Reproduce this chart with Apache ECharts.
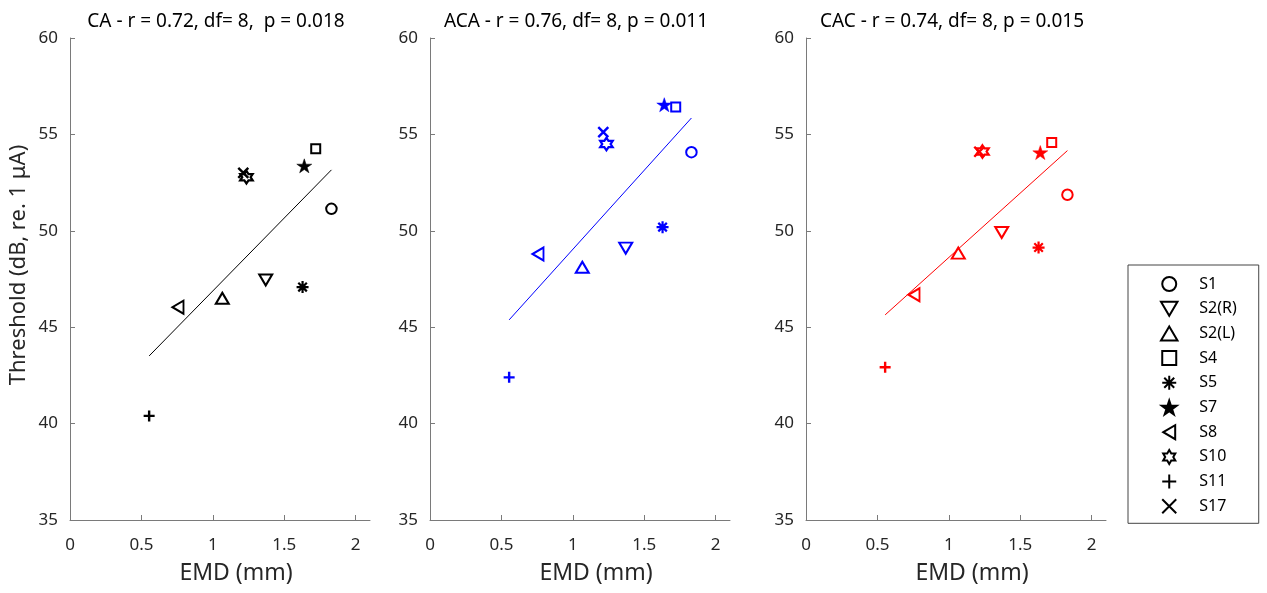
<!DOCTYPE html>
<html><head><meta charset="utf-8">
<script src="https://cdn.jsdelivr.net/npm/echarts@6/dist/echarts.min.js"></script>
<style>html,body{margin:0;padding:0;background:#fff}#c{width:1267px;height:593px}</style>
</head><body><div id="c"></div>
<script>
// ---- data ----
const subjects = ['S1', 'S2(R)', 'S2(L)', 'S4', 'S5', 'S7', 'S8', 'S10', 'S11', 'S17'];
const emd      = [1.83, 1.37, 1.066, 1.72, 1.628, 1.64, 0.756, 1.235, 0.554, 1.213];
const thrCA    = [51.14, 47.45, 46.5, 54.25, 47.08, 53.37, 46.04, 52.78, 40.4, 53.0];
const thrACA   = [54.08, 49.1, 48.11, 56.42, 50.19, 56.54, 48.8, 54.5, 42.4, 55.12];
const thrCAC   = [51.87, 49.91, 48.84, 54.58, 49.13, 54.06, 46.68, 54.11, 42.92, 54.1];
const fitX     = [0.554, 1.83];
const fitCA    = [43.51, 53.16];
const fitACA   = [45.38, 55.85];
const fitCAC   = [45.64, 54.16];
const panelTitles = ['CA - r = 0.72, df= 8,  p = 0.018', 'ACA - r = 0.76, df= 8, p = 0.011', 'CAC - r = 0.74, df= 8, p = 0.015'];
const xTicks = [0, 0.5, 1, 1.5, 2];
const yTicks = [35, 40, 45, 50, 55, 60];
const xName = 'EMD (mm)';
const yName = 'Threshold (dB, re. 1 \u03bcA)';

// ---- styles ----
const FONT = 'Noto Sans';
const panelColors = ['#000000', '#0000ff', '#ff0000'];
const panelLeft = [70, 430, 806];
const gridTop = 38, gridH = 482, gridW = 300;
const markerStyle = {
  'S1':    {symbol: 'circle', size: 10.5, filled: false, bw: 2},
  'S2(R)': {symbol: 'path://M0,0L20,0L10,17Z', size: [13, 11], filled: false, bw: 2},
  'S2(L)': {symbol: 'path://M10,0L20,17L0,17Z', size: [13, 11], filled: false, bw: 2},
  'S4':    {symbol: 'path://M0,0L20,0L20,20L0,20Z', size: 9, filled: false, bw: 2},
  'S5':    {symbol: 'path://M10,0L10,20M0,10L20,10M2.9,2.9L17.1,17.1M17.1,2.9L2.9,17.1', size: 12, filled: false, bw: 2.2},
  'S7':    {symbol: 'path://M10,0L12.25,6.91L19.51,6.91L13.63,11.18L15.88,18.09L10,13.82L4.12,18.09L6.37,11.18L0.49,6.91L7.75,6.91Z', size: [15, 14], filled: true, bw: 0.5},
  'S8':    {symbol: 'path://M0,10L17,0L17,20Z', size: [11, 13], filled: false, bw: 2},
  'S10':   {symbol: 'path://M10,0L12.89,5L18.66,5L15.77,10L18.66,15L12.89,15L10,20L7.11,15L1.34,15L4.23,10L1.34,5L7.11,5Z', size: 12.5, filled: false, bw: 2.2},
  'S11':   {symbol: 'path://M10,0L10,20M0,10L20,10', size: 11, filled: false, bw: 2.4},
  'S17':   {symbol: 'path://M0,0L20,20M20,0L0,20', size: 10, filled: false, bw: 2.4}
};

const thr = [thrCA, thrACA, thrCAC];
const fits = [fitCA, fitACA, fitCAC];

const grids = [], xAxes = [], yAxes = [], series = [], titles = [];
for (let p = 0; p < 3; p++) {
  grids.push({left: panelLeft[p], top: gridTop, width: gridW, height: gridH, containLabel: false});
  titles.push({
    text: panelTitles[p], left: panelLeft[p] + gridW / 2 - 4, top: 12, textAlign: 'center', padding: 0,
    textStyle: {fontFamily: FONT, fontSize: 19, fontWeight: 'normal', color: '#000'}
  });
  const axLine = {show: true, lineStyle: {color: '#7a7a7a', width: 1}};
  xAxes.push({
    gridIndex: p, type: 'value', min: 0, max: 2.1, interval: 0.5,
    name: xName, nameLocation: 'middle', nameGap: 42,
    nameTextStyle: {fontFamily: FONT, fontSize: 23, color: '#262626', padding: [0, 0, 0, 32]},
    axisLine: axLine,
    axisTick: {show: true, inside: true, length: 5, lineStyle: {color: '#7a7a7a'}, customValues: xTicks},
    axisLabel: {fontFamily: FONT, fontSize: 17, color: '#262626', margin: 17, customValues: xTicks,
      formatter: v => String(v)},
    splitLine: {show: false}
  });
  yAxes.push({
    gridIndex: p, type: 'value', min: 35, max: 60, interval: 5,
    name: p === 0 ? yName : '', nameLocation: 'middle', nameGap: 40,
    nameTextStyle: {fontFamily: FONT, fontSize: 22, color: '#262626', padding: [0, 0, 0, 28]},
    axisLine: axLine,
    axisTick: {show: true, inside: true, length: 5, lineStyle: {color: '#7a7a7a'}, customValues: yTicks},
    axisLabel: {fontFamily: FONT, fontSize: 17, color: '#262626', margin: 12, customValues: yTicks},
    splitLine: {show: false}
  });
  series.push({
    type: 'line', name: 'fit' + p, xAxisIndex: p, yAxisIndex: p, symbol: 'none', silent: true,
    lineStyle: {color: panelColors[p], width: 1},
    data: [[fitX[0], fits[p][0]], [fitX[1], fits[p][1]]], z: 1
  });
  subjects.forEach((s, i) => {
    const m = markerStyle[s];
    series.push({
      type: 'scatter', name: s, xAxisIndex: p, yAxisIndex: p,
      symbol: m.symbol, symbolSize: m.size,
      itemStyle: {color: m.filled ? panelColors[p] : 'rgba(255,255,255,0)', borderColor: panelColors[p], borderWidth: m.bw, opacity: 1},
      emphasis: {disabled: true},
      data: [[emd[i], thr[p][i]]], z: 3
    });
  });
}

const chart = echarts.init(document.getElementById('c'), null, {renderer: 'canvas'});
chart.setOption({
  animation: false,
  backgroundColor: '#fff',
  textStyle: {fontFamily: FONT},
  title: titles,
  grid: grids, xAxis: xAxes, yAxis: yAxes,
  legend: {
    data: subjects, orient: 'vertical', left: 1128, top: 265,
    padding: [11, 22, 9, 32], itemWidth: 50, itemHeight: 14, itemGap: 8.7,
    symbolKeepAspect: true,
    borderColor: '#444', borderWidth: 1, borderRadius: 0, backgroundColor: '#fff',
    selectedMode: false,
    textStyle: {fontFamily: FONT, fontSize: 16, color: '#000', lineHeight: 14},
    itemStyle: {color: 'inherit', borderColor: 'inherit', borderWidth: 2}
  },
  series: series
});
</script></body></html>
